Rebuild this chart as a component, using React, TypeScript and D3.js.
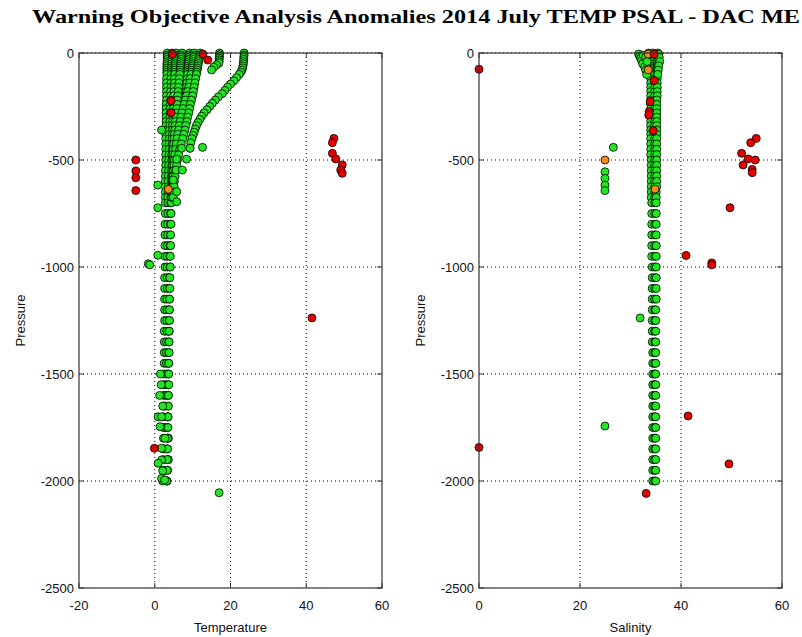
import React from "react";
import * as d3 from "d3";

// ---------- DATA ----------
const titleText = "Warning Objective Analysis Anomalies 2014 July TEMP PSAL - DAC ME";
const tempTicks = [-20, 0, 20, 40, 60];
const psalTicks = [0, 20, 40, 60];
const presTicks = [0, -500, -1000, -1500, -2000, -2500];

// shared pressure levels for the main column profiles
const colPres = [0, -10, -20, -30, -40, -50, -60, -70, -80, -90, -100, -120, -140, -160, -180, -200, -220, -240, -260, -280, -300, -320, -340, -360, -380, -400, -425, -450, -475, -500, -525, -550, -575, -600, -625, -650, -675,
  -700, -750, -800, -850, -900, -950, -1000, -1050, -1100, -1150, -1200, -1250, -1300, -1350, -1400, -1450, -1500, -1550, -1600, -1650, -1700, -1750, -1800, -1850, -1900, -1950, -2000];

// temperature column profiles
const colT1 = [4.6, 4.6, 4.6, 4.5, 4.5, 4.5, 4.5, 4.4, 4.4, 4.4, 4.4, 4.3, 4.3, 4.3, 4.2, 4.2, 4.2, 4.1, 4.1, 4.1, 4.0, 4.0, 4.0, 3.9, 3.9, 3.9, 3.8, 3.8, 3.8, 3.7, 3.7, 3.7, 3.6, 3.6, 3.6, 3.6, 3.5,
  3.5, 3.5, 3.4, 3.4, 3.4, 3.3, 3.3, 3.3, 3.3, 3.2, 3.2, 3.2, 3.2, 3.1, 3.1, 3.1, 3.1, 3.0, 3.0, 2.8, 3.4, 2.7, 3.6, 2.7, 3.4, 2.6, 3.2, 3.0];
const colT2 = [5.6, 5.6, 5.5, 5.5, 5.5, 5.4, 5.4, 5.4, 5.3, 5.3, 5.3, 5.2, 5.2, 5.1, 5.1, 5.0, 5.0, 4.9, 4.9, 4.9, 4.8, 4.8, 4.7, 4.7, 4.7, 4.6, 4.6, 4.6, 4.5, 4.5, 4.5, 4.4, 4.4, 4.4, 4.3, 4.3, 4.3,
  4.2, 4.2, 4.1, 4.1, 4.0, 4.0, 4.0, 3.9, 3.9, 3.9, 3.8, 3.8, 3.8, 3.7, 3.7, 3.7, 3.6, 3.6, 3.6, 3.5, 3.5, 3.4, 3.4, 3.3, 3.6, 3.4, 3.2, 3.5];
const colT3 = [7.2, 7.1, 7.0, 7.0, 6.9, 6.9, 6.8, 6.8, 6.7, 6.7, 6.6, 6.5, 6.4, 6.3, 6.2, 6.1, 6.0, 5.9, 5.8, 5.7, 5.6, 5.5, 5.4, 5.3, 5.2, 5.1, 5.0, 4.9, 4.8, 4.8, 4.7, 4.7, 4.6, 4.6, 4.5, 4.5, 4.4,
  4.4, 4.3, 4.3, 4.2, 4.2, 4.1, 4.1, 4.0, 4.0, 3.9, 3.9, 3.9, 3.8, 3.8, 3.8, 3.7, 3.7, 3.7, 3.6, 3.6, 3.5, 3.5, 3.4, 3.4, 3.3, 3.3, 3.2, 3.2];
const colT4 = [3.3, 3.3, 3.3, 3.3, 3.3, 3.2, 3.2, 3.2, 3.2, 3.2, 3.2, 3.1, 3.1, 3.1, 3.1, 3.1, 3.1, 3.0, 3.0, 3.0, 3.0, 3.0, 3.0, 3.0, 2.9, 2.9, 2.9, 2.9, 2.9, 2.9, 2.9, 2.8, 2.8, 2.8, 2.8, 2.8, 2.8,
  2.8, 2.8, 2.7, 2.7, 2.7, 2.7, 2.7, 2.6, 2.6, 2.6, 2.6, 2.6, 2.5, 2.5, 2.5, 2.5, 2.4, 2.4, 2.4, 2.4, 2.3, 2.3, 2.3, 2.2, 2.2, 2.2, 2.1, 2.1];

// upper diagonal temperature profiles (first 37 pressure levels)
const diagT1 = [9.2, 9.1, 9.1, 9.0, 9.0, 8.9, 8.9, 8.8, 8.8, 8.7, 8.7, 8.6, 8.5, 8.4, 8.3, 8.2, 8.0, 7.8, 7.6, 7.4, 7.2, 7.0, 6.8, 6.6, 6.4, 6.2, 6.0, 5.8, 5.6, 5.4, 5.3, 5.2, 5.1, 5.0, 4.9, 4.8, 4.7];
const diagT2 = [12.0, 11.9, 11.8, 11.7, 11.6, 11.5, 11.4, 11.3, 11.2, 11.1, 11.0, 10.8, 10.6, 10.4, 10.2, 10.0, 9.7, 9.4, 9.2, 9.0, 8.7, 8.5, 8.2, 8.0, 7.7, 7.4, 7.0, 6.6, 6.3, 6.0, 5.8, 5.6, 5.4, 5.2, 5.1, 5.0, 4.9];
const diagT3 = [10.4, 10.3, 10.3, 10.2, 10.2, 10.1, 10.0, 9.9, 9.8, 9.7, 9.6, 9.4, 9.2, 9.0, 8.7, 8.4, 8.1, 7.8, 7.5, 7.2, 6.9, 6.7, 6.5, 6.3, 6.1, 5.9, 5.7, 5.5, 5.3, 5.2, 5.1, 5.0, 4.9, 4.8, 4.7, 4.6, 4.5];

// warm surface profile
const warmPres = [0, -10, -20, -30, -40, -50, -60, -70, -80, -90, -100, -115, -130, -145, -160, -175, -190, -205, -220, -235, -250, -265, -280, -295, -310, -325, -340, -355, -370, -385, -400, -420, -445];
const warmTemp = [23.6, 23.6, 23.5, 23.5, 23.4, 23.4, 23.3, 23.2, 23.0, 22.7, 22.3, 21.6, 20.9, 20.0, 19.2, 18.5, 17.8, 16.8, 16.0, 15.2, 14.5, 13.8, 13.0, 12.4, 11.9, 11.4, 11.0, 10.7, 10.4, 10.1, 9.8, 9.5, 9.3];

// short 17 degC profile
const shortPres = [0, -8, -16, -24, -32, -40, -48, -56, -66, -79];
const shortTemp = [17.1, 17.1, 17.1, 17.0, 17.0, 17.0, 16.9, 16.3, 15.6, 15.0];

// isolated green temperature points
const greenTempT = [1.8, 9.3, 12.6, 7.1, 5.8, 8.4, 5.6, 7.3, 0.8, 4.9, 5.8, 5.8, 0.8, -1.7, -1.3, 0.8, 17.0, 2.1, 0.9, 1.8, 1.4, 2.7, 1.8, 1.8, 0.9, 2.1, 1.8, 2.6, 1.5, 1.7, 1.3];
const greenTempP = [-360, -445, -441, -445, -496, -496, -547, -547, -617, -593, -648, -695, -723, -985, -990, -945, -2055, -1650, -1700, -1700, -1746, -1800, -1847, -1902, -1917, -1952, -1988, -1995, -1500, -1550, -1600];

const orangeTempT = [3.6];
const orangeTempP = [-637];

const redTempT = [-5, -5, -5, -5, 47.3, 46.9, 46.9, 47.8, 49.5, 49.1, 49.5, 4.3, 4.3, 4.7, 12.7, 14.0, 41.5, -0.1];
const redTempP = [-500, -551, -583, -643, -399, -419, -469, -495, -523, -547, -562, -223, -279, -5, -5, -33, -1238, -1847];

// salinity column profiles
const colS1 = [33.6, 33.7, 33.7, 33.8, 33.8, 33.9, 33.9, 33.9, 34.0, 34.0, 34.0, 34.0, 34.0, 34.0, 34.0, 34.0, 34.0, 34.0, 34.0, 34.0, 34.0, 34.0, 34.0, 34.0, 34.0, 34.0, 34.0, 34.0, 34.0, 34.1, 34.1, 34.1, 34.1, 34.1, 34.1, 34.1, 34.1,
  34.2, 34.2, 34.2, 34.2, 34.2, 34.2, 34.3, 34.3, 34.3, 34.3, 34.3, 34.3, 34.3, 34.3, 34.4, 34.4, 34.4, 34.4, 34.4, 34.4, 34.4, 34.4, 34.4, 34.4, 34.4, 34.4, 34.4, 34.4];
const colS2 = [34.4, 34.5, 34.5, 34.6, 34.6, 34.6, 34.7, 34.7, 34.7, 34.7, 34.8, 34.8, 34.8, 34.8, 34.8, 34.8, 34.8, 34.8, 34.8, 34.8, 34.8, 34.8, 34.8, 34.8, 34.8, 34.8, 34.8, 34.8, 34.8, 34.8, 34.8, 34.8, 34.8, 34.8, 34.8, 34.8, 34.8,
  34.8, 34.8, 34.8, 34.8, 34.8, 34.8, 34.8, 34.8, 34.8, 34.8, 34.8, 34.8, 34.8, 34.8, 34.8, 34.8, 34.8, 34.8, 34.8, 34.8, 34.8, 34.8, 34.8, 34.8, 34.8, 34.8, 34.8, 34.8];
const colS3 = [35.4, 35.4, 35.4, 35.4, 35.3, 35.3, 35.3, 35.3, 35.3, 35.3, 35.3, 35.3, 35.3, 35.3, 35.3, 35.3, 35.2, 35.2, 35.2, 35.2, 35.2, 35.2, 35.2, 35.2, 35.2, 35.2, 35.2, 35.2, 35.2, 35.2, 35.2, 35.2, 35.2, 35.2, 35.2, 35.1, 35.1,
  35.1, 35.1, 35.1, 35.1, 35.1, 35.1, 35.1, 35.1, 35.1, 35.1, 35.0, 35.0, 35.0, 35.0, 35.0, 35.0, 35.0, 35.0, 35.0, 35.0, 35.0, 35.0, 35.0, 35.0, 35.0, 35.0, 35.0, 35.0];

// surface spread + isolated green salinity points
const greenPsalS = [31.6, 31.8, 32.0, 32.2, 32.4, 32.8, 33.0, 33.2, 32.5, 33.0, 33.3, 35.6, 35.7, 35.8, 35.6, 35.5, 35.4, 26.6, 24.95, 24.95, 24.95, 24.95, 24.95, 31.9];
const greenPsalP = [-5, -15, -25, -35, -50, -65, -80, -100, -10, -20, -40, -5, -20, -40, -60, -80, -100, -441, -555, -586, -617, -643, -1743, -1238];

const orangePsalS = [24.95, 34.85, 33.5, 33.5];
const orangePsalP = [-500, -636, -79, -5];

const redPsalS = [0, 54.9, 53.8, 52.0, 53.3, 54.7, 52.3, 54.1, 54.1, 49.7, 34.7, 33.9, 33.7, 33.6, 34.5, 34.7, 41.0, 46.1, 46.1, 41.4, 33.1, 0, 49.5];
const redPsalP = [-76, -399, -419, -469, -495, -500, -523, -544, -559, -723, -129, -227, -274, -290, -363, -5, -946, -981, -990, -1696, -2058, -1843, -1920];

// ---------- LAYOUT ----------
const W = 802, H = 637;
const top = 53, bottom = 588;
const leftPanel = { x0: 79, x1: 382 };
const rightPanel = { x0: 479, x1: 782 };
const GREEN = "#22e622", RED = "#e60000", ORANGE = "#f58a14";

type Pt = [number, number];
const zip = (xs: number[], ys: number[]): Pt[] => xs.map((v, i) => [v, ys[i]] as Pt).filter(p => p[0] !== undefined && p[1] !== undefined);

function Panel({ x, y, xTicks, xLabel, green, orange, red }: any) {
  const [x0, x1] = x.range();
  const axisFont = "'Liberation Sans Narrow', 'Liberation Sans', Arial, sans-serif";
  return (
    <g>
      {xTicks.slice(1, -1).map((t: number) => (
        <line key={"gx" + t} x1={x(t)} x2={x(t)} y1={top} y2={bottom} stroke="#000" strokeWidth={1} strokeDasharray="1,3" />
      ))}
      {presTicks.slice(0, -1).map((t) => (
        <line key={"gy" + t} x1={x0} x2={x1} y1={y(t)} y2={y(t)} stroke="#000" strokeWidth={1} strokeDasharray="1,3" />
      ))}
      {green.map((p: Pt, i: number) => (
        <circle key={"g" + i} cx={x(p[0])} cy={y(p[1])} r={4} fill={GREEN} stroke="#000" strokeWidth={0.8} />
      ))}
      {orange.map((p: Pt, i: number) => (
        <circle key={"o" + i} cx={x(p[0])} cy={y(p[1])} r={4} fill={ORANGE} stroke="#000" strokeWidth={0.8} />
      ))}
      {red.map((p: Pt, i: number) => (
        <circle key={"r" + i} cx={x(p[0])} cy={y(p[1])} r={4} fill={RED} stroke="#000" strokeWidth={0.8} />
      ))}
      <rect x={x0} y={top} width={x1 - x0} height={bottom - top} fill="none" stroke="#333" strokeWidth={1.2} />
      {xTicks.map((t: number) => (
        <g key={"tx" + t}>
          <line x1={x(t)} x2={x(t)} y1={bottom} y2={bottom - 5} stroke="#333" />
          <line x1={x(t)} x2={x(t)} y1={top} y2={top + 5} stroke="#333" />
          <text x={x(t)} y={610} textAnchor="middle" fontSize={13} fontFamily={axisFont} fill="#111">{t}</text>
        </g>
      ))}
      {presTicks.map((t) => (
        <g key={"ty" + t}>
          <line x1={x0} x2={x0 + 5} y1={y(t)} y2={y(t)} stroke="#333" />
          <line x1={x1} x2={x1 - 5} y1={y(t)} y2={y(t)} stroke="#333" />
          <text x={x0 - 5} y={y(t) + 5} textAnchor="end" fontSize={13} fontFamily={axisFont} fill="#111">{t}</text>
        </g>
      ))}
      <text x={(x0 + x1) / 2} y={632} textAnchor="middle" fontSize={13} fontFamily={axisFont} fill="#111">{xLabel}</text>
      <text transform={`translate(${x0 - 54},${(top + bottom) / 2}) rotate(-90)`} textAnchor="middle" fontSize={13} fontFamily={axisFont} fill="#111">Pressure</text>
    </g>
  );
}

export default function App() {
  const y = d3.scaleLinear().domain([-2500, 0]).range([bottom, top]);
  const xT = d3.scaleLinear().domain([-20, 60]).range([leftPanel.x0, leftPanel.x1]);
  const xS = d3.scaleLinear().domain([0, 60]).range([rightPanel.x0, rightPanel.x1]);

  const upper = colPres.slice(0, 37);
  const tempGreen: Pt[] = [
    ...zip(colT4, colPres), ...zip(colT1, colPres), ...zip(colT2, colPres), ...zip(colT3, colPres),
    ...zip(diagT1, upper), ...zip(diagT3, upper), ...zip(diagT2, upper),
    ...zip(warmTemp, warmPres), ...zip(shortTemp, shortPres),
    ...zip(greenTempT, greenTempP),
  ];
  const psalGreen: Pt[] = [
    ...zip(colS1, colPres), ...zip(colS2, colPres), ...zip(colS3, colPres),
    ...zip(greenPsalS, greenPsalP),
  ];

  return (
    <svg width={W} height={H} style={{ position: "absolute", left: 0, top: 0, background: "#fff" }}>
      <rect width={W} height={H} fill="#fff" />
      <text x={32} y={23} fontSize={18} fontWeight="bold" fontFamily="'Liberation Serif', 'Times New Roman', serif" textLength={768} lengthAdjust="spacingAndGlyphs" fill="#000">{titleText}</text>
      <Panel x={xT} y={y} xTicks={tempTicks} xLabel="Temperature" green={tempGreen} orange={zip(orangeTempT, orangeTempP)} red={zip(redTempT, redTempP)} />
      <Panel x={xS} y={y} xTicks={psalTicks} xLabel="Salinity" green={psalGreen} orange={zip(orangePsalS, orangePsalP)} red={zip(redPsalS, redPsalP)} />
    </svg>
  );
}
